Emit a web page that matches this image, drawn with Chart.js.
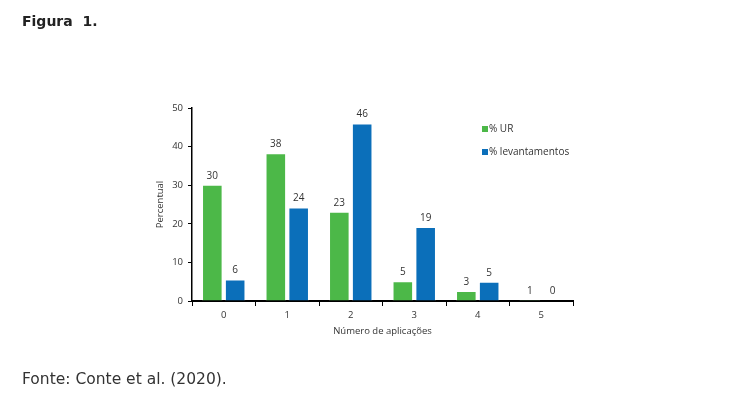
<!DOCTYPE html>
<html>
<head>
<meta charset="utf-8">
<script src="https://cdn.jsdelivr.net/npm/chart.js@4"></script>
<style>
  body { margin: 0; background: #fff; width: 738px; height: 399px; position: relative; overflow: hidden; }
  #title { position: absolute; left: 22px; top: 13px; font: bold 14px "DejaVu Sans", Verdana, sans-serif; color: #222; }
  #source { position: absolute; left: 22px; top: 370px; font: 15.5px "DejaVu Sans", Verdana, sans-serif; color: #333; }
  #wrap { position: absolute; left: 0; top: 0; width: 738px; height: 399px; }
</style>
</head>
<body>
<div id="wrap"><canvas id="chart"></canvas></div>
<div id="title">Figura&nbsp; 1.</div>
<div id="source">Fonte: Conte et al. (2020).</div>
<script>
const categories = ['0', '1', '2', '3', '4', '5'];
const seriesNames = ['% UR', '% levantamentos'];
const urValues = [30.1, 38.3, 23.1, 5.1, 2.6, 0.3];
const levValues = [5.6, 24.2, 46.0, 19.2, 5.0, 0.1];
const urLabels = [30, 38, 23, 5, 3, 1];
const levLabels = [6, 24, 46, 19, 5, 0];
const colors = ['#4cb848', '#0b6fba'];

const font = '"Open Sans", "Liberation Sans", sans-serif';

// value labels above bars
const valueLabels = {
  id: 'valueLabels',
  afterDatasetsDraw(chart) {
    const ctx = chart.ctx;
    ctx.save();
    ctx.font = '10px ' + font;
    ctx.fillStyle = '#333';
    ctx.textAlign = 'center';
    ctx.textBaseline = 'bottom';
    chart.data.datasets.forEach((ds, i) => {
      chart.getDatasetMeta(i).data.forEach((bar, j) => {
        ctx.fillText(ds.shownLabels[j], bar.x, bar.y - 4);
      });
    });
    ctx.restore();
  }
};

// legend inside the plot, top right
const insideLegend = {
  id: 'insideLegend',
  afterDraw(chart) {
    const ctx = chart.ctx;
    ctx.save();
    ctx.font = '10px ' + font;
    ctx.textBaseline = 'middle';
    chart.data.datasets.forEach((ds, i) => {
      const y = 129 + i * 23;
      ctx.fillStyle = ds.backgroundColor;
      ctx.fillRect(482, y - 3, 6, 6);
      ctx.fillStyle = '#333';
      ctx.fillText(ds.label, 489, y);
    });
    ctx.restore();
  }
};

new Chart(document.getElementById('chart'), {
  type: 'bar',
  data: {
    labels: categories,
    datasets: [
      { label: seriesNames[0], data: urValues, shownLabels: urLabels, backgroundColor: colors[0],
        borderColor: 'rgba(255,255,255,0.5)', borderWidth: 1 },
      { label: seriesNames[1], data: levValues, shownLabels: levLabels, backgroundColor: colors[1],
        borderColor: 'rgba(255,255,255,0.5)', borderWidth: 1 }
    ]
  },
  options: {
    responsive: true,
    maintainAspectRatio: false,
    animation: false,
    layout: { padding: { left: 155, right: 165, top: 108, bottom: 58 } },
    plugins: { legend: { display: false }, tooltip: { enabled: false } },
    datasets: { bar: { categoryPercentage: 0.72, barPercentage: 0.9 } },
    scales: {
      x: {
        grid: { drawOnChartArea: false, drawTicks: true, tickLength: 5, color: '#000', lineWidth: 1 },
        border: { color: '#000', width: 2 },
        ticks: { color: '#333', font: { family: font, size: 9.5 }, padding: 4 },
        title: { display: true, text: 'Número de aplicações', color: '#333', font: { family: font, size: 9.5 }, padding: { top: 3 } },
        afterFit(scale) { scale.height = 40; }
      },
      y: {
        min: 0, max: 50,
        ticks: { stepSize: 10, color: '#333', font: { family: font, size: 9.5 }, padding: 5 },
        grid: { drawOnChartArea: false, drawTicks: true, tickLength: 4, color: '#000', lineWidth: 1 },
        border: { color: '#000', width: 1.5 },
        title: { display: true, text: 'Percentual', color: '#333', font: { family: font, size: 9.5 }, padding: 0 },
        afterFit(scale) { scale.width = 37; }
      }
    }
  },
  plugins: [valueLabels, insideLegend]
});
</script>
</body>
</html>
